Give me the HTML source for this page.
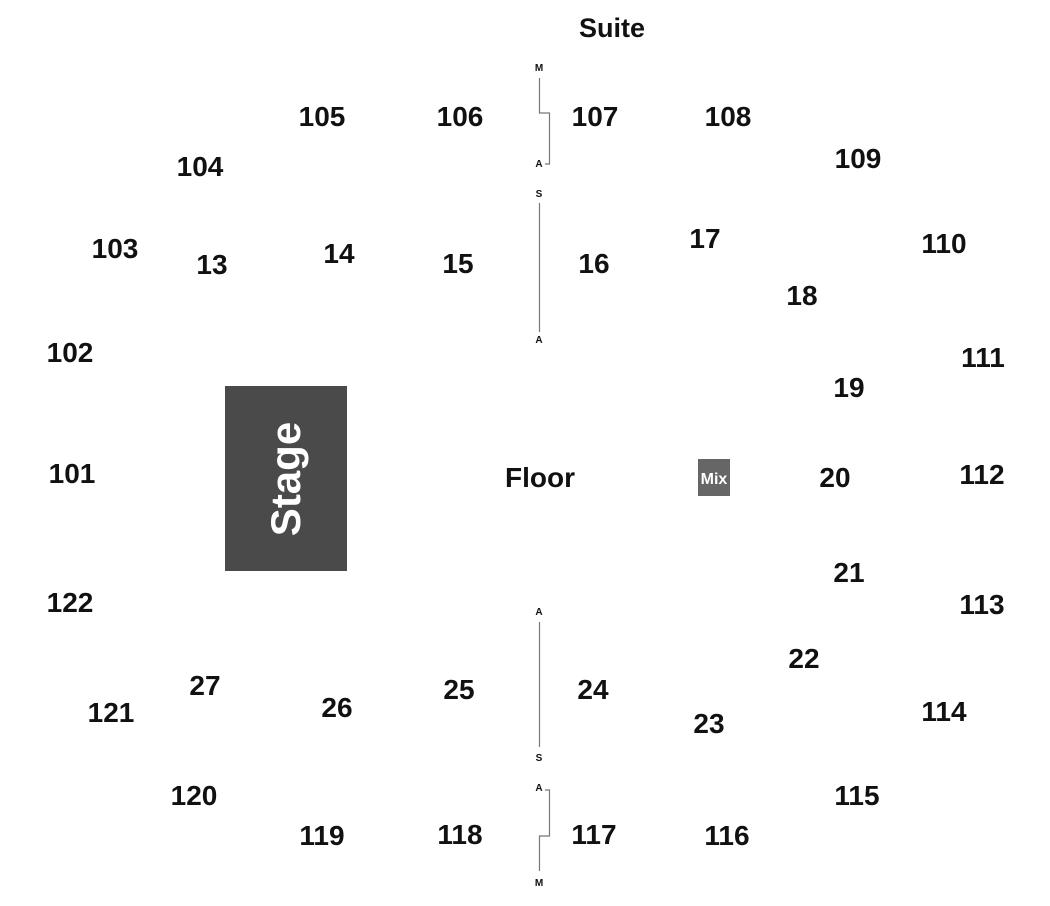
<!DOCTYPE html>
<html><head><meta charset="utf-8"><style>
html,body{margin:0;padding:0;background:#fff;}
svg{display:block;}
text{font-family:"Liberation Sans",Arial,sans-serif;font-weight:bold;}
</style></head><body>
<svg width="1050" height="906" viewBox="0 0 1050 906" xmlns="http://www.w3.org/2000/svg">
<rect x="0" y="0" width="1050" height="906" fill="#fff"/>
<rect x="225" y="386" width="122" height="185" fill="#4a4a4a"/>
<text transform="translate(300,479) rotate(-90)" text-anchor="middle" font-size="42" fill="#fff">Stage</text>
<rect x="698" y="459" width="32" height="37" fill="#666"/>
<text x="714" y="484" text-anchor="middle" font-size="16" fill="#fff">Mix</text>
<g fill="none" stroke="#777" stroke-width="1.2">
<polyline points="539.5,78 539.5,113 549.5,113 549.5,164 545,164"/>
<line x1="539.5" y1="203" x2="539.5" y2="332"/>
<line x1="539.5" y1="622" x2="539.5" y2="747"/>
<polyline points="545,790 549.5,790 549.5,836 539.5,836 539.5,871"/>
</g>
<g font-size="10" fill="#111" text-anchor="middle">
<text x="539" y="71">M</text>
<text x="539" y="167">A</text>
<text x="539" y="197">S</text>
<text x="539" y="343">A</text>
<text x="539" y="615">A</text>
<text x="539" y="761">S</text>
<text x="539" y="791">A</text>
<text x="539" y="886">M</text>
</g>
<g font-size="27" fill="#111" text-anchor="middle">
<text x="612" y="37">Suite</text>
<text x="540" y="487" font-size="28">Floor</text>
</g>
<g font-size="28" fill="#111" text-anchor="middle">
<text x="322" y="126">105</text>
<text x="460" y="126">106</text>
<text x="595" y="126">107</text>
<text x="728" y="126">108</text>
<text x="200" y="176">104</text>
<text x="858" y="168">109</text>
<text x="115" y="258">103</text>
<text x="212" y="274">13</text>
<text x="339" y="263">14</text>
<text x="458" y="273">15</text>
<text x="594" y="273">16</text>
<text x="705" y="248">17</text>
<text x="944" y="253">110</text>
<text x="802" y="305">18</text>
<text x="70" y="362">102</text>
<text x="983" y="367">111</text>
<text x="849" y="397">19</text>
<text x="72" y="483">101</text>
<text x="835" y="487">20</text>
<text x="982" y="484">112</text>
<text x="849" y="582">21</text>
<text x="70" y="612">122</text>
<text x="982" y="614">113</text>
<text x="804" y="668">22</text>
<text x="205" y="695">27</text>
<text x="111" y="722">121</text>
<text x="337" y="717">26</text>
<text x="459" y="699">25</text>
<text x="593" y="699">24</text>
<text x="709" y="733">23</text>
<text x="944" y="721">114</text>
<text x="194" y="805">120</text>
<text x="857" y="805">115</text>
<text x="322" y="845">119</text>
<text x="460" y="844">118</text>
<text x="594" y="844">117</text>
<text x="727" y="845">116</text>
</g>
</svg>
</body></html>
